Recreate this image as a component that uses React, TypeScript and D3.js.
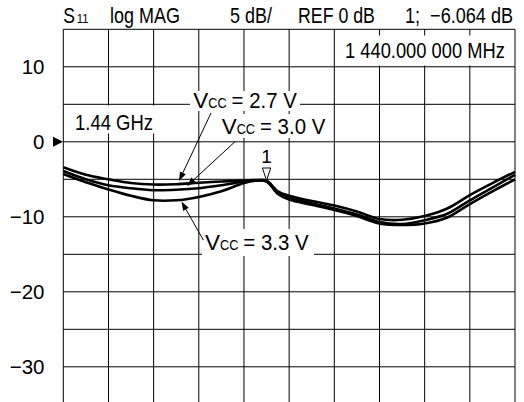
import React, { useLayoutEffect, useRef, useState } from "react";
import * as d3 from "d3";

// Frequency sweep (GHz) – 10 divisions
const freqs = [0.54, 0.64, 0.74, 0.84, 0.94, 1.04, 1.14, 1.24, 1.34, 1.39, 1.44, 1.49, 1.54, 1.64, 1.74, 1.84, 1.94, 2.04, 2.14, 2.24, 2.34, 2.44, 2.54];
// S11 (dB) for each supply voltage
const s11Vcc27 = [-3.4, -4.4, -5.0, -5.5, -5.7, -5.65, -5.45, -5.3, -5.15, -5.1, -5.2, -6.6, -7.2, -7.9, -8.5, -9.3, -10.3, -10.4, -9.9, -8.9, -7.1, -5.5, -4.0];
const s11Vcc30 = [-3.9, -5.0, -5.8, -6.2, -6.45, -6.4, -6.2, -5.8, -5.3, -5.15, -5.25, -6.8, -7.5, -8.2, -8.9, -9.7, -10.7, -10.95, -10.45, -9.6, -7.8, -6.1, -4.4];
const s11Vcc33 = [-4.3, -5.4, -6.35, -7.2, -7.8, -7.8, -7.35, -6.6, -5.5, -5.2, -5.3, -6.95, -7.7, -8.4, -9.1, -9.9, -10.9, -11.1, -10.9, -10.1, -8.3, -6.6, -5.0];
const yTickValues = [10, 0, -10, -20, -30];
const yGridValues = [15, 10, 5, 0, -5, -10, -15, -20, -25, -30, -35];
const xGridValues = [0.54, 0.74, 0.94, 1.14, 1.34, 1.54, 1.74, 1.94, 2.14, 2.34, 2.54];
const markerFreq = 1.44;

const FONT = '"Liberation Sans", Arial, Helvetica, sans-serif';

function T(props: any) {
  const { x, y, len, size, anchor, children } = props;
  const ref = useRef<SVGTextElement>(null);
  const [sx, setSx] = useState(len ? 0.88 : 1);
  useLayoutEffect(() => {
    if (len && ref.current) {
      const nat = ref.current.getComputedTextLength();
      if (nat > 0) setSx(len / nat);
    }
  }, [len, children, size]);
  return (
    <text
      ref={ref}
      x={0}
      y={0}
      transform={`translate(${x},${y}) scale(${sx},1)`}
      fontSize={size}
      fontFamily={FONT}
      textAnchor={anchor || "start"}
      fill="#000"
      style={{ whiteSpace: "pre" }}
    >
      {children}
    </text>
  );
}

function Arrow(props: any) {
  const { x1, y1, x2, y2 } = props;
  const ang = Math.atan2(y2 - y1, x2 - x1);
  const L = 9, W = 3.2;
  const bx = x2 - L * Math.cos(ang), by = y2 - L * Math.sin(ang);
  const px = -Math.sin(ang) * W, py = Math.cos(ang) * W;
  return (
    <g>
      <line x1={x1} y1={y1} x2={bx} y2={by} stroke="#000" strokeWidth={1} />
      <path d={`M${x2},${y2}L${bx + px},${by + py}L${bx - px},${by - py}Z`} fill="#000" />
    </g>
  );
}

function VccLabel(props: any) {
  const { x, y, value } = props;
  return (
    <g>
      <T x={x} y={y} size={22} len={15}>V</T>
      <T x={x + 15} y={y} size={14.5} len={18.3}>CC</T>
      <T x={x + 38.3} y={y} size={22} len={65.3}>{`= ${value} V`}</T>
    </g>
  );
}

export default function App() {
  const W = 524, H = 402;
  const x = d3.scaleLinear().domain([0.54, 2.54]).range([63.3, 515]);
  const y = d3.scaleLinear().domain([15, -35]).range([29.3, 404.3]);
  const line = d3
    .line<number>()
    .x((_, i) => x(freqs[i]))
    .y((d) => y(d))
    .curve(d3.curveCatmullRom.alpha(0.5));
  const series = [s11Vcc27, s11Vcc30, s11Vcc33];
  const mx = x(markerFreq);
  const mIdx = freqs.indexOf(markerFreq);
  const my = y(Math.max(s11Vcc27[mIdx], s11Vcc30[mIdx], s11Vcc33[mIdx])) - 0.5;

  return (
    <svg
      width={W}
      height={H}
      style={{ position: "fixed", left: 0, top: 0, background: "#fff" }}
    >
      <rect x={0} y={0} width={W} height={H} fill="#fff" />
      {/* grid */}
      {yGridValues.map((v) => (
        <line key={"h" + v} x1={x(0.54)} x2={x(2.54)} y1={y(v)} y2={y(v)} stroke="#000" strokeWidth={1} />
      ))}
      {xGridValues.map((v) => (
        <line key={"v" + v} x1={x(v)} x2={x(v)} y1={y(15)} y2={y(-35)} stroke="#000" strokeWidth={1} />
      ))}

      {/* white label boxes */}
      <rect x={336} y={35.5} width={178} height={30} fill="#fff" />
      <rect x={64.5} y={105.5} width={95} height={28} fill="#fff" />
      <rect x={190} y={91} width={110} height={20} fill="#fff" />
      <rect x={218} y={114} width={110} height={24} fill="#fff" />
      <rect x={202} y={229} width={112} height={27} fill="#fff" />

      {/* traces */}
      {series.map((s, i) => (
        <path key={i} d={line(s) || ""} fill="none" stroke="#000" strokeWidth={2.6} strokeLinejoin="round" />
      ))}

      {/* marker */}
      <path d={`M${mx - 4.2},${my - 12.3}L${mx + 4.2},${my - 12.3}L${mx},${my}Z`} fill="#fff" stroke="#000" strokeWidth={1} />
      <T x={mx} y={163.3} size={19} anchor="middle">1</T>

      {/* reference arrow at 0 dB */}
      <path d={`M53,${y(0) - 5}L63,${y(0)}L53,${y(0) + 5}Z`} fill="#000" />

      {/* y tick labels */}
      {yTickValues.map((v) => (
        <T key={"t" + v} x={44.5} y={y(v) + 7.5} size={20.5} anchor="end">
          {v < 0 ? "\u2212" + Math.abs(v) : String(v)}
        </T>
      ))}

      {/* header */}
      <T x={63.3} y={23.3} size={22} len={11.7}>S</T>
      <T x={76.7} y={23.3} size={12.5} len={11.7}>11</T>
      <T x={110} y={23.3} size={22} len={70}>log MAG</T>
      <T x={230} y={23.3} size={22} len={42}>5 dB/</T>
      <T x={298} y={23.3} size={22} len={77}>REF 0 dB</T>
      <T x={405} y={23.3} size={22} len={108}>{"1;  \u22126.064 dB"}</T>

      <T x={345} y={58.3} size={22} len={160}>1 440.000 000 MHz</T>
      <T x={75} y={130} size={22} len={78}>1.44 GHz</T>

      {/* Vcc annotations */}
      <VccLabel x={193.3} y={108.3} value="2.7" />
      <VccLabel x={221.7} y={134.3} value="3.0" />
      <VccLabel x={205} y={250} value="3.3" />
      <Arrow x1={211} y1={113} x2={179} y2={181} />
      <Arrow x1={235} y1={141.7} x2={187} y2={186} />
      <Arrow x1={203.3} y1={240} x2={181.5} y2={201.5} />
    </svg>
  );
}
